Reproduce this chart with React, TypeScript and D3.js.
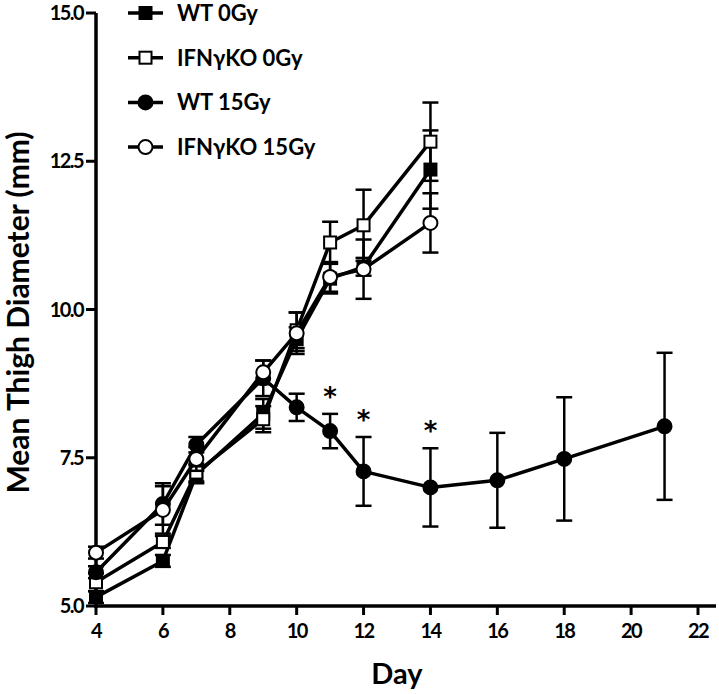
import React from "react";
import * as d3 from "d3";

const daysEarly = [4, 6, 7, 9, 10, 11, 12, 14];
const daysWT15 = [4, 6, 7, 9, 10, 11, 12, 14, 16, 18, 21];

const wt0Mean = [5.15, 5.76, 7.22, 8.24, 9.5, 10.52, 10.72, 12.36];
const wt0Sem = [0.1, 0.1, 0.15, 0.25, 0.2, 0.25, 0.15, 0.66];
const ko0Mean = [5.4, 6.08, 7.25, 8.15, 9.65, 11.13, 11.42, 12.83];
const ko0Sem = [0.15, 0.1, 0.15, 0.22, 0.3, 0.35, 0.6, 0.66];
const wt15Mean = [5.57, 6.72, 7.72, 8.84, 8.35, 7.95, 7.27, 7.0, 7.12, 7.48, 8.03];
const wt15Sem = [0.1, 0.35, 0.13, 0.3, 0.23, 0.29, 0.58, 0.66, 0.8, 1.04, 1.24];
const ko15Mean = [5.9, 6.62, 7.48, 8.94, 9.6, 10.55, 10.68, 11.46];
const ko15Sem = [0.1, 0.4, 0.2, 0.2, 0.35, 0.25, 0.5, 0.5];

const starDays = [11, 12, 14];

const xTicks = [4, 6, 8, 10, 12, 14, 16, 18, 20, 22];
const yTicks = [5.0, 7.5, 10.0, 12.5, 15.0];

const legendLabels = ["WT 0Gy", "IFNγKO 0Gy", "WT 15Gy", "IFNγKO 15Gy"];

type Series = { name: string; days: number[]; mean: number[]; sem: number[]; shape: "square" | "circle"; filled: boolean };

const series: Series[] = [
  { name: legendLabels[0], days: daysEarly, mean: wt0Mean, sem: wt0Sem, shape: "square", filled: true },
  { name: legendLabels[1], days: daysEarly, mean: ko0Mean, sem: ko0Sem, shape: "square", filled: false },
  { name: legendLabels[2], days: daysWT15, mean: wt15Mean, sem: wt15Sem, shape: "circle", filled: true },
  { name: legendLabels[3], days: daysEarly, mean: ko15Mean, sem: ko15Sem, shape: "circle", filled: false },
];

const FONT = "Lato, 'Open Sans', sans-serif";

function Marker({ cx, cy, shape, filled }: { cx: number; cy: number; shape: string; filled: boolean }) {
  const fill = filled ? "#000" : "#fff";
  if (shape === "square") {
    const s = 12;
    return <rect x={cx - s / 2} y={cy - s / 2} width={s} height={s} fill={fill} stroke="#000" strokeWidth={2} />;
  }
  return <circle cx={cx} cy={cy} r={7} fill={fill} stroke="#000" strokeWidth={2} />;
}

export default function App() {
  const W = 719;
  const H = 694;
  const x = d3.scaleLinear().domain([4, 22]).range([96, 698]);
  const y = d3.scaleLinear().domain([5, 15]).range([606, 13]);
  const line = d3
    .line<[number, number]>()
    .x((d) => x(d[0]))
    .y((d) => y(d[1]));

  const capW = 8;

  return (
    <svg width={W} height={H} style={{ position: "absolute", left: 0, top: 0, background: "#fff" }}>
      <rect width={W} height={H} fill="#fff" />
      {/* axes */}
      <line x1={96} x2={96} y1={y(15)} y2={y(5) + 1.5} stroke="#000" strokeWidth={3.5} />
      <line x1={94.25} x2={716} y1={y(5)} y2={y(5)} stroke="#000" strokeWidth={3.5} />
      {yTicks.map((t) => (
        <g key={"yt" + t}>
          <line x1={86} x2={96} y1={y(t)} y2={y(t)} stroke="#000" strokeWidth={3} />
          <text
            x={83}
            y={y(t)}
            dy="0.36em"
            textAnchor="end"
            fontFamily={FONT}
            fontWeight={700}
            fontSize={20}
            letterSpacing={-1.6}
          >
            {t.toFixed(1)}
          </text>
        </g>
      ))}
      {xTicks.map((t) => (
        <g key={"xt" + t}>
          <line x1={x(t)} x2={x(t)} y1={y(5)} y2={y(5) + 9} stroke="#000" strokeWidth={3} />
          <text
            x={x(t)}
            y={y(5) + 32}
            textAnchor="middle"
            fontFamily={FONT}
            fontWeight={700}
            fontSize={20}
            letterSpacing={-1.6}
          >
            {t}
          </text>
        </g>
      ))}
      <text x={x(13)} y={684} textAnchor="middle" fontFamily={FONT} fontWeight={700} fontSize={29}>
        Day
      </text>
      <text
        transform={`translate(29, ${y(9.95)}) rotate(-90)`}
        textAnchor="middle"
        fontFamily={FONT}
        fontWeight={700}
        fontSize={30}
      >
        Mean Thigh Diameter (mm)
      </text>

      {/* series */}
      {series.map((s, si) => {
        const pts: [number, number][] = s.days.map((d, i) => [d, s.mean[i]]);
        return (
          <g key={"s" + si}>
            <path d={line(pts) || ""} fill="none" stroke="#000" strokeWidth={3.5} strokeLinejoin="round" />
            {s.days.map((d, i) => {
              const cx = x(d);
              const top = y(s.mean[i] + s.sem[i]);
              const bot = y(s.mean[i] - s.sem[i]);
              return (
                <g key={"e" + i}>
                  <line x1={cx} x2={cx} y1={top} y2={bot} stroke="#000" strokeWidth={2.5} />
                  <line x1={cx - capW} x2={cx + capW} y1={top} y2={top} stroke="#000" strokeWidth={2.5} />
                  <line x1={cx - capW} x2={cx + capW} y1={bot} y2={bot} stroke="#000" strokeWidth={2.5} />
                </g>
              );
            })}
            {s.days.map((d, i) => (
              <Marker key={"m" + i} cx={x(d)} cy={y(s.mean[i])} shape={s.shape} filled={s.filled} />
            ))}
          </g>
        );
      })}

      {/* significance stars */}
      {starDays.map((d) => {
        const i = daysWT15.indexOf(d);
        const top = y(wt15Mean[i] + wt15Sem[i]);
        return (
          <text
            key={"st" + d}
            x={x(d)}
            y={top - 8}
            textAnchor="middle"
            fontFamily="'DejaVu Sans', sans-serif"
            fontWeight={700}
            fontSize={26}
          >
            *
          </text>
        );
      })}

      {/* legend */}
      {series.map((s, i) => {
        const ly = 13 + i * 44.7;
        return (
          <g key={"lg" + i}>
            <line x1={128} x2={163} y1={ly} y2={ly} stroke="#000" strokeWidth={3.5} />
            <Marker cx={145.5} cy={ly} shape={s.shape} filled={s.filled} />
            <text x={177} y={ly} dy="0.36em" fontFamily={FONT} fontWeight={700} fontSize={22}>
              {s.name}
            </text>
          </g>
        );
      })}
    </svg>
  );
}
